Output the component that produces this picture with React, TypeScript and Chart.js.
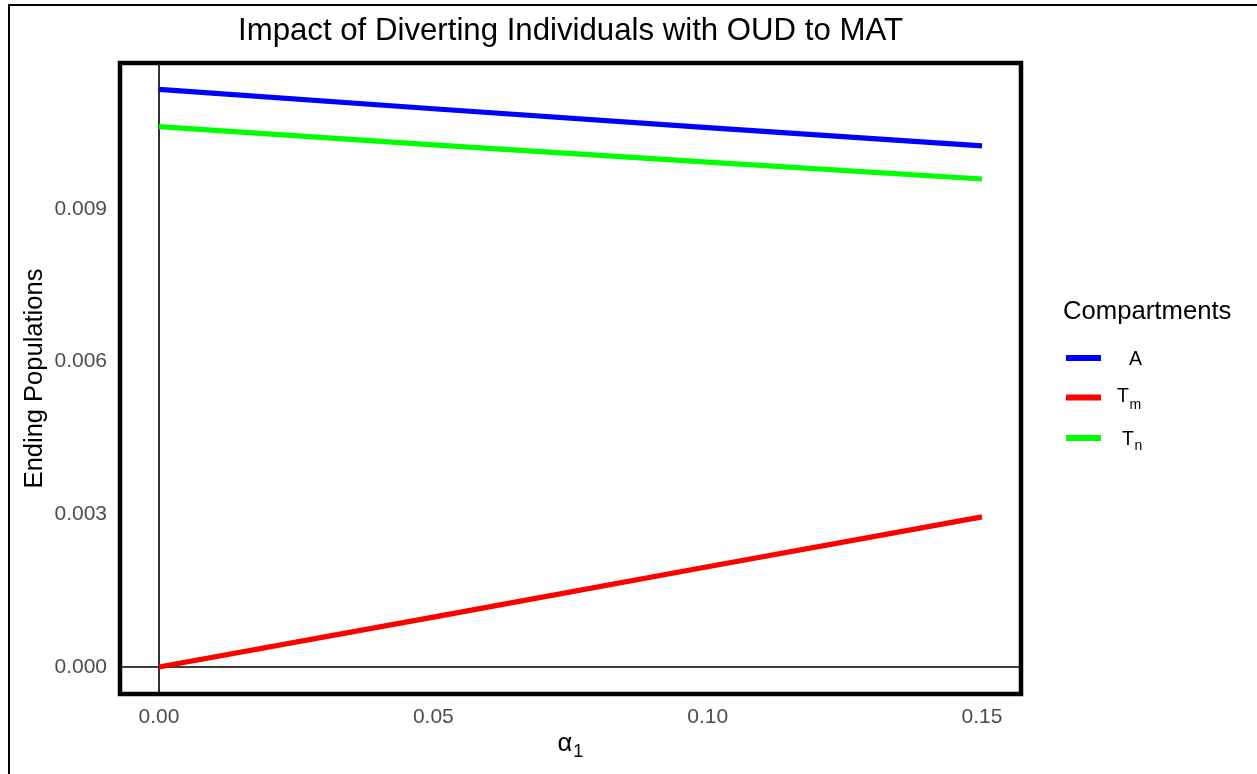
import React, { useEffect, useRef } from "react";
import { Chart, registerables } from "chart.js";

Chart.register(...registerables);

const FONT = '"Liberation Sans", Arial, Helvetica, sans-serif';

const titleText = "Impact of Diverting Individuals with OUD to MAT";
const yAxisTitle = "Ending Populations";
const xAxisMain = "α";
const xAxisSub = "1";
const legendTitle = "Compartments";

const alphaValues = [0, 0.05, 0.1, 0.15];
const valuesA = [0.01135, 0.01097, 0.0106, 0.01024];
const valuesTm = [0.0, 0.00098, 0.00197, 0.00295];
const valuesTn = [0.01062, 0.01026, 0.00992, 0.00959];

const xTicks = [0, 0.05, 0.1, 0.15];
const xTickLabels = ["0.00", "0.05", "0.10", "0.15"];
const yTicks = [0, 0.003, 0.006, 0.009];
const yTickLabels = ["0.000", "0.003", "0.006", "0.009"];

const legendMain = ["A", "T", "T"];
const legendSub = ["", "m", "n"];

const COLORS = ["#0000FF", "#FF0000", "#00FF00"];

export default function App() {
  const ref = useRef<HTMLCanvasElement | null>(null);

  useEffect(() => {
    const canvas = ref.current;
    if (!canvas) return;

    const series = [valuesA, valuesTm, valuesTn];

    const decor = {
      id: "decor",
      beforeDatasetsDraw(chart: any) {
        const { ctx, chartArea, scales } = chart;
        const x0 = scales.x.getPixelForValue(0);
        const y0 = scales.y.getPixelForValue(0);
        ctx.save();
        ctx.strokeStyle = "#000";
        ctx.lineWidth = 1.6;
        ctx.beginPath();
        ctx.moveTo(x0, chartArea.top);
        ctx.lineTo(x0, chartArea.bottom);
        ctx.moveTo(chartArea.left, y0);
        ctx.lineTo(chartArea.right, y0);
        ctx.stroke();
        ctx.restore();
      },
      afterDatasetsDraw(chart: any) {
        const { ctx, chartArea } = chart;
        ctx.save();
        ctx.strokeStyle = "#000";
        ctx.lineWidth = 4.5;
        ctx.strokeRect(
          chartArea.left,
          chartArea.top,
          chartArea.right - chartArea.left,
          chartArea.bottom - chartArea.top
        );
        ctx.restore();
      },
      afterDraw(chart: any) {
        const { ctx, chartArea } = chart;
        const cx = (chartArea.left + chartArea.right) / 2;
        const cy = (chartArea.top + chartArea.bottom) / 2;
        ctx.save();
        ctx.fillStyle = "#000";
        // title
        ctx.font = `31.2px ${FONT}`;
        ctx.textAlign = "center";
        ctx.textBaseline = "alphabetic";
        ctx.fillText(titleText, cx, 40);

        // y axis title
        ctx.save();
        ctx.translate(42, cy);
        ctx.rotate(-Math.PI / 2);
        ctx.font = `25.5px ${FONT}`;
        ctx.textAlign = "center";
        ctx.textBaseline = "alphabetic";
        ctx.fillText(yAxisTitle, 0, 0);
        ctx.restore();

        // x axis title alpha_1
        ctx.textAlign = "left";
        ctx.font = `25.5px ${FONT}`;
        const wMain = ctx.measureText(xAxisMain).width;
        ctx.font = `18px ${FONT}`;
        const wSub = ctx.measureText(xAxisSub).width;
        const startX = cx - (wMain + wSub + 1) / 2;
        ctx.font = `25.5px ${FONT}`;
        ctx.fillText(xAxisMain, startX, 751);
        ctx.font = `18px ${FONT}`;
        ctx.fillText(xAxisSub, startX + wMain + 1, 757);

        // legend
        ctx.font = `25.7px ${FONT}`;
        ctx.fillText(legendTitle, 1063, 319);
        const keyY = [358, 397.5, 438];
        const mainX = [1129, 1117, 1122];
        const mainBase = [365, 402, 444.5];
        const subBase = [0, 408.5, 449.5];
        for (let i = 0; i < legendMain.length; i++) {
          ctx.strokeStyle = COLORS[i];
          ctx.lineWidth = 6;
          ctx.lineCap = "butt";
          ctx.beginPath();
          ctx.moveTo(1066, keyY[i]);
          ctx.lineTo(1101, keyY[i]);
          ctx.stroke();
          ctx.fillStyle = "#000";
          ctx.font = `19.5px ${FONT}`;
          ctx.fillText(legendMain[i], mainX[i], mainBase[i]);
          if (legendSub[i]) {
            const w = ctx.measureText(legendMain[i]).width;
            ctx.font = `14px ${FONT}`;
            ctx.fillText(legendSub[i], mainX[i] + w + 0.5, subBase[i]);
          }
        }
        ctx.restore();
      },
    };

    const chart = new Chart(canvas, {
      type: "line",
      data: {
        datasets: series.map((vals, i) => ({
          label: ["A", "Tm", "Tn"][i],
          data: alphaValues.map((a, j) => ({ x: a, y: vals[j] })),
          borderColor: COLORS[i],
          backgroundColor: COLORS[i],
          borderWidth: 5.2,
          pointRadius: 0,
          tension: 0,
          borderCapStyle: "butt",
          fill: false,
        })),
      },
      options: {
        animation: false,
        responsive: false,
        maintainAspectRatio: false,
        layout: { padding: { left: 20, right: 236, top: 63, bottom: 30 } },
        plugins: {
          legend: { display: false },
          title: { display: false },
          tooltip: { enabled: false },
        },
        scales: {
          x: {
            type: "linear",
            min: -0.00711,
            max: 0.15711,
            grid: { display: false, drawTicks: false },
            border: { display: false },
            afterFit(scale: any) {
              scale.height = 50;
            },
            afterBuildTicks(scale: any) {
              scale.ticks = xTicks.map((v) => ({ value: v }));
            },
            ticks: {
              padding: 11,
              color: "#4d4d4d",
              font: { family: FONT, size: 21 },
              maxRotation: 0,
              autoSkip: false,
              callback: (v: any) => {
                const idx = xTicks.findIndex((t) => Math.abs(t - Number(v)) < 1e-9);
                return idx >= 0 ? xTickLabels[idx] : "";
              },
            },
          },
          y: {
            type: "linear",
            min: -0.000531,
            max: 0.011869,
            grid: { display: false, drawTicks: false },
            border: { display: false },
            afterFit(scale: any) {
              scale.width = 100;
            },
            afterBuildTicks(scale: any) {
              scale.ticks = yTicks.map((v) => ({ value: v }));
            },
            ticks: {
              padding: 13,
              color: "#4d4d4d",
              font: { family: FONT, size: 21 },
              autoSkip: false,
              callback: (v: any) => {
                const idx = yTicks.findIndex((t) => Math.abs(t - Number(v)) < 1e-9);
                return idx >= 0 ? yTickLabels[idx] : "";
              },
            },
          },
        },
      },
      plugins: [decor],
    } as any);

    return () => chart.destroy();
  }, []);

  return (
    <div style={{ position: "fixed", left: 0, top: 0, width: 1257, height: 774, background: "#fff" }}>
      <canvas
        ref={ref}
        width={1257}
        height={774}
        style={{ position: "absolute", left: 0, top: 0, width: 1257, height: 774 }}
      />
      <div
        style={{
          position: "absolute",
          left: 8,
          top: 4,
          width: 1249,
          height: 770,
          borderTop: "2px solid #000",
          borderLeft: "2px solid #000",
          boxSizing: "border-box",
          pointerEvents: "none",
        }}
      />
    </div>
  );
}
